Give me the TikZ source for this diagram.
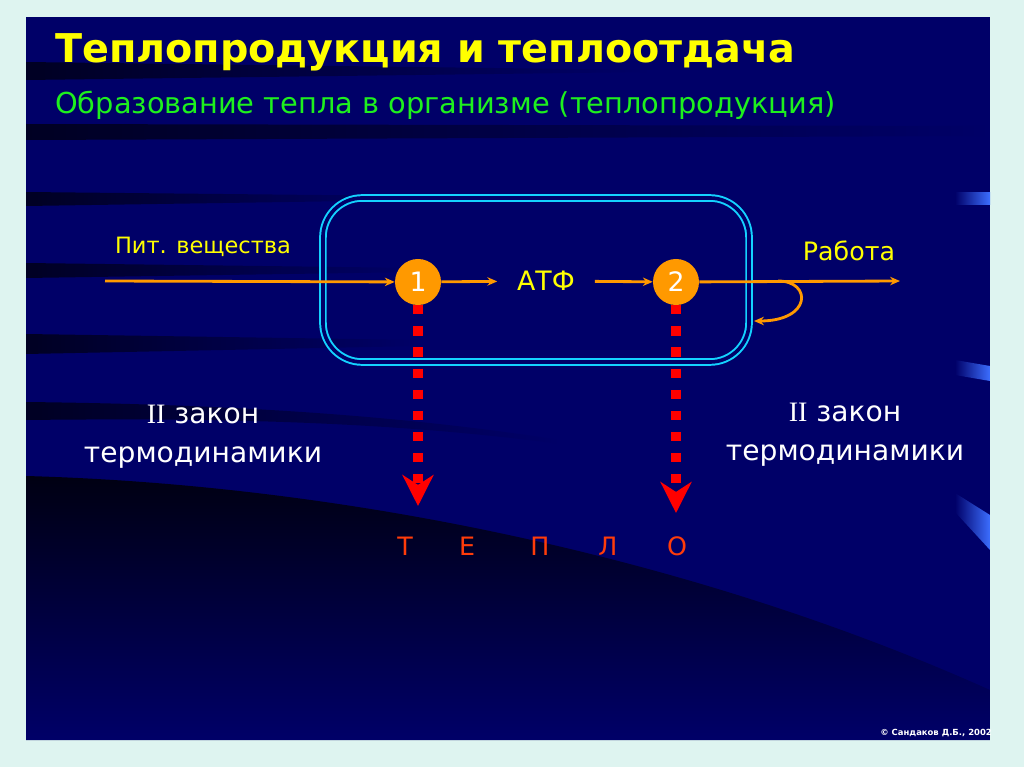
\documentclass[tikz,border=0pt]{standalone}
\usepackage{fontspec}
\setmainfont{DejaVu Sans}
\newfontfamily\romfont{Liberation Serif}
\usetikzlibrary{arrows.meta,positioning}

\definecolor{tpMint}{RGB}{222,244,240}
\definecolor{tpNavy}{RGB}{0,0,104}
\definecolor{tpShadow}{RGB}{0,0,18}
\definecolor{tpYellow}{RGB}{255,255,0}
\definecolor{tpGreen}{RGB}{30,240,30}
\definecolor{tpOrange}{RGB}{255,153,0}
\definecolor{tpCyan}{RGB}{20,210,255}
\definecolor{tpRed}{RGB}{255,0,0}
\definecolor{tpHeat}{RGB}{255,60,10}
\definecolor{tpGlow}{RGB}{60,110,255}

\tikzset{
  stripe/.style={left color=tpShadow, right color=tpNavy, draw=none, opacity=0.8},
  flow/.style={draw=tpOrange, line width=2pt, -{Stealth[length=7pt, width=6pt]}},
  heat/.style={draw=tpRed, line width=6.5pt, dash pattern=on 6.5pt off 8.5pt,
               -{Stealth[length=22pt, width=22pt, inset=7pt]}},
  stage/.style={circle, fill=tpOrange, minimum size=1.15cm, inner sep=0pt,
                text=white, font=\fontsize{19}{19}\selectfont},
  label/.style={text=tpYellow, font=\fontsize{16}{16}\selectfont},
  law/.style={text=white, align=center, font=\fontsize{20}{28}\selectfont},
  heatletter/.style={text=tpHeat, font=\fontsize{18}{18}\selectfont},
}

\begin{document}
\begin{tikzpicture}[x=0.025cm, y=-0.025cm]
\useasboundingbox (0,0) rectangle (1024,767);
%% page and slide
\fill[tpMint] (0,0) rectangle (1024,767);
\fill[tpNavy] (26,17) rectangle (990,740);
\begin{scope}
  \clip (26,17) rectangle (990,740);
  %% dark swooshes on the left
  \shade[stripe] (26,62) -- (650,70) -- (650,72) -- (26,80) -- cycle;
  \shade[stripe] (26,124) -- (990,126) -- (990,136) -- (26,140) -- cycle;
  \shade[stripe] (26,192) -- (420,196) -- (420,200) -- (26,206) -- cycle;
  \shade[stripe] (26,263) -- (420,268) -- (420,272) -- (26,278) -- cycle;
  \shade[stripe] (26,334) -- (420,340) -- (420,346) -- (26,354) -- cycle;
  \shade[stripe] (26,402) .. controls (200,404) and (380,412) .. (560,440)
    -- (560,444) .. controls (380,420) and (200,418) .. (26,420) -- cycle;
  %% big shadow at the bottom
  \shade[top color=tpShadow, bottom color=tpNavy]
    (26,476) .. controls (350,485) and (700,560) .. (990,690)
    -- (990,740) -- (26,740) -- cycle;
  %% light bars on the right edge
  \shade[left color=tpNavy, right color=tpGlow] (955,193) rectangle (990,205);
  \shade[left color=tpNavy, right color=tpGlow]
    (955,360) -- (990,366) -- (990,381) -- (955,375) -- cycle;
  \shade[left color=tpNavy, right color=tpGlow]
    (955,493) -- (990,515) -- (990,550) -- (955,512) -- cycle;
  %% copyright
  \node[anchor=east, text=white, inner sep=0pt,
        font=\fontsize{6}{6}\selectfont\bfseries] (copy) at (992,733)
    {\textcopyright\ Сандаков Д.Б., 2002};
\end{scope}

%% headings
\node[anchor=west, text=tpYellow, inner sep=0pt,
      font=\fontsize{28.2}{28.2}\selectfont\bfseries] (title) at (55,52)
  {Теплопродукция и теплоотдача};
\node[anchor=west, text=tpGreen, inner sep=0pt,
      font=\fontsize{20.5}{20.5}\selectfont] (sub) at (55,105)
  {Образование тепла в организме (теплопродукция)};

%% the cell
\node[draw=tpCyan, line width=1.4pt, double=tpNavy, double distance=2.6pt,
      rounded corners=28, minimum width=10.65cm, minimum height=4.1cm]
  (cell) at (536,280) {};

%% flow of substances
\coordinate (food) at (105,281);
\coordinate (work) at (900,281);
\coordinate (turn) at (778,281);
\coordinate (back) at (754,321);
\node[stage] (s1) at (418,282) {1};
\node[stage] (s2) at (676,282) {2};
\node[text=tpYellow, inner xsep=14pt, inner ysep=0pt,
      font=\fontsize{19}{19}\selectfont] (atf) at (546,281) {АТФ};
\draw[flow] (food) -- (s1);
\draw[flow] (s1) -- (atf);
\draw[flow] (atf) -- (s2);
\draw[flow] (s2) -- (work);
\draw[flow] (turn) .. controls (812,281) and (812,321) .. (back);
\node[label] (pit) at (203,247) {Пит. вещества};
\node[label, font=\fontsize{18}{18}\selectfont] (rab) at (849,251) {Работа};

%% heat
\coordinate (h1) at (418,506);
\coordinate (h2) at (676,513);
\draw[heat] (s1) -- (h1);
\draw[heat] (s2) -- (h2);
\foreach \x/\l in {405/Т, 467/Е, 540/П, 608/Л, 677/О}
  \node[heatletter] (heat-\x) at (\x,546) {\l};

%% second law
\node[law] (lawL) at (203,437) {{\romfont II} закон\\термодинамики};
\node[law] (lawR) at (845,435) {{\romfont II} закон\\термодинамики};
\end{tikzpicture}
\end{document}
